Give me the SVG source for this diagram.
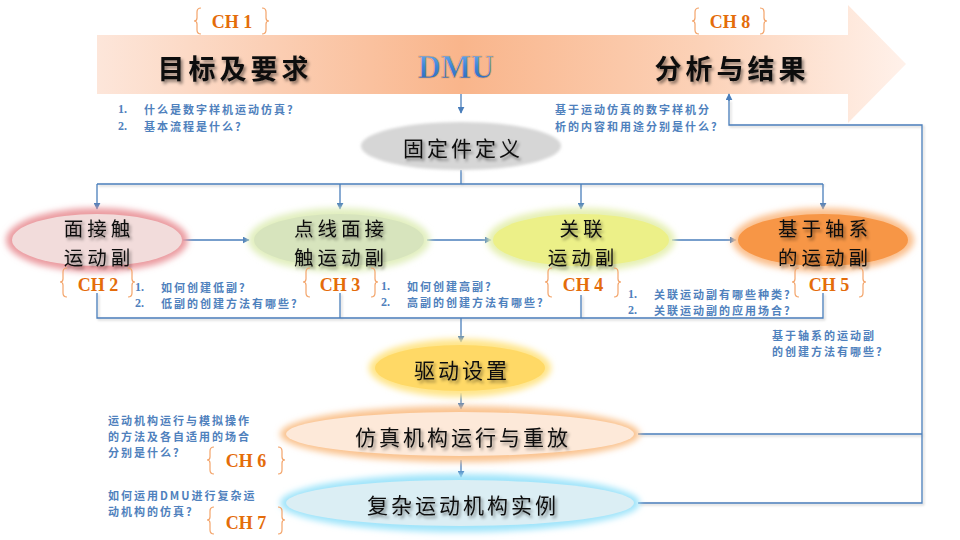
<svg xmlns="http://www.w3.org/2000/svg" width="960" height="540" viewBox="0 0 960 540">
<defs>
<linearGradient id="banner" gradientUnits="userSpaceOnUse" x1="97" y1="0" x2="906" y2="0">
<stop offset="0" stop-color="#fde6da"/>
<stop offset="0.45" stop-color="#f9b58b"/>
<stop offset="0.75" stop-color="#fcd2b8"/>
<stop offset="1" stop-color="#fff1ea"/>
</linearGradient>
<linearGradient id="dmu" x1="0" y1="0" x2="0" y2="1">
<stop offset="0" stop-color="#7ab8f2"/>
<stop offset="0.5" stop-color="#3f86d8"/>
<stop offset="1" stop-color="#2a64b8"/>
</linearGradient>
<filter id="blur" x="-20%" y="-40%" width="140%" height="180%"><feGaussianBlur stdDeviation="3"/></filter>
<filter id="soft" x="-20%" y="-40%" width="140%" height="180%"><feGaussianBlur stdDeviation="1.5"/></filter>
<filter id="tsh" x="-10%" y="-30%" width="130%" height="170%"><feDropShadow dx="2" dy="2.5" stdDeviation="1.5" flood-color="#000" flood-opacity="0.45"/></filter>
<filter id="lsh" filterUnits="userSpaceOnUse" x="0" y="0" width="960" height="540"><feDropShadow dx="1.5" dy="1.5" stdDeviation="1" flood-color="#000" flood-opacity="0.2"/></filter>
<marker id="arr" viewBox="0 0 10 10" refX="9" refY="5" markerWidth="7" markerHeight="7" markerUnits="userSpaceOnUse" orient="auto">
<path d="M0,0 L10,5 L0,10 Z" fill="#4a7ebb"/>
</marker>
<style>
.ln{fill:none;stroke:#4a7ebb;stroke-width:1.3}
.q{font-family:"Noto Sans CJK SC","Liberation Serif",sans-serif;font-size:11px;font-weight:700;fill:#4f81bd;letter-spacing:2px;dominant-baseline:central}
.qn{font-family:"Liberation Serif",serif;font-size:12px;font-weight:700;fill:#4f81bd;dominant-baseline:central}
.ch{font-family:"Liberation Serif",serif;font-size:18px;font-weight:700;fill:#e46c0a;text-anchor:middle}
.br{fill:none;stroke:#f3a46a;stroke-width:1.2}
.nt{font-family:"Noto Sans CJK SC",sans-serif;font-size:21px;fill:#111;letter-spacing:3px;text-anchor:middle;dominant-baseline:central}
.n2{font-family:"Noto Sans CJK SC",sans-serif;font-size:19.5px;fill:#111;letter-spacing:4px;text-anchor:middle;dominant-baseline:central}
.hd{font-family:"Noto Sans CJK SC",sans-serif;font-size:27px;font-weight:700;fill:#111;letter-spacing:4px;text-anchor:middle;dominant-baseline:central}
</style>
</defs>
<rect width="960" height="540" fill="#ffffff"/>

<g id="banner-arrow">
<path d="M97,35 H848 V5 L906,64 L848,123 V94 H97 Z" fill="url(#banner)"/>
<text class="hd" x="235" y="67" filter="url(#tsh)">目标及要求</text>
<text x="456" y="66" font-family="Liberation Serif,serif" font-size="34" font-weight="700" fill="url(#dmu)" stroke="#e8a266" stroke-width="0.7" text-anchor="middle" dominant-baseline="central" textLength="76" lengthAdjust="spacingAndGlyphs">DMU</text>
<text class="hd" x="732" y="67" filter="url(#tsh)">分析与结果</text>
</g>

<g id="connectors">
<line class="ln" x1="461" y1="94" x2="461" y2="113" marker-end="url(#arr)"/>
<g filter="url(#lsh)">
<line class="ln" x1="461" y1="170" x2="461" y2="184"/>
<line class="ln" x1="97" y1="184" x2="823" y2="184"/>
<polyline class="ln" points="97,293 97,318 823,318 823,293"/>
<line class="ln" x1="340" y1="293" x2="340" y2="318"/>
<line class="ln" x1="581" y1="295" x2="581" y2="318"/>
<line class="ln" x1="638" y1="434" x2="922" y2="434"/>
<polyline class="ln" points="638,503 922,503 922,125 729,125 729,100"/>
</g>
<line class="ln" x1="729" y1="101" x2="729" y2="94" marker-end="url(#arr)"/>
<line class="ln" x1="97" y1="184" x2="97" y2="209" marker-end="url(#arr)"/>
<line class="ln" x1="340" y1="184" x2="340" y2="209" marker-end="url(#arr)"/>
<line class="ln" x1="581" y1="184" x2="581" y2="209" marker-end="url(#arr)"/>
<line class="ln" x1="823" y1="184" x2="823" y2="209" marker-end="url(#arr)"/>
<line class="ln" x1="183" y1="240" x2="249" y2="240" marker-end="url(#arr)"/>
<line class="ln" x1="427" y1="240" x2="491" y2="240" marker-end="url(#arr)"/>
<line class="ln" x1="672" y1="240" x2="736" y2="240" marker-end="url(#arr)"/>
<line class="ln" x1="461" y1="318" x2="461" y2="342" marker-end="url(#arr)"/>
<line class="ln" x1="461" y1="393" x2="461" y2="409" marker-end="url(#arr)"/>
<line class="ln" x1="461" y1="460" x2="461" y2="477" marker-end="url(#arr)"/>
</g>

<g id="node-fixed">
<ellipse cx="461" cy="146" rx="100" ry="24" fill="#d6d6d6" filter="url(#soft)"/>
<text class="nt" x="463" y="147" filter="url(#tsh)">固定件定义</text>
</g>

<g id="node-surface">
<ellipse cx="97" cy="240" rx="91" ry="32" fill="#eb9ba0" filter="url(#blur)"/>
<ellipse cx="97" cy="240" rx="85" ry="26" fill="#f2dcdb"/>
<text class="n2" x="99" y="227" filter="url(#tsh)">面接触</text>
<text class="n2" x="99" y="256" filter="url(#tsh)">运动副</text>
</g>

<g id="node-pointline">
<ellipse cx="339" cy="240" rx="91" ry="32" fill="#e2efc0" filter="url(#blur)"/>
<ellipse cx="339" cy="240" rx="85" ry="26" fill="#d7e4bd"/>
<text class="n2" x="341" y="227" filter="url(#tsh)">点线面接</text>
<text class="n2" x="341" y="256" filter="url(#tsh)">触运动副</text>
</g>

<g id="node-related">
<ellipse cx="581" cy="240" rx="94" ry="32" fill="#e6f0b4" filter="url(#blur)"/>
<ellipse cx="581" cy="240" rx="88" ry="26" fill="#ecf088"/>
<text class="n2" x="583" y="227" filter="url(#tsh)">关联</text>
<text class="n2" x="583" y="256" filter="url(#tsh)">运动副</text>
</g>

<g id="node-axis">
<ellipse cx="823" cy="240" rx="91" ry="32" fill="#fbc08e" filter="url(#blur)"/>
<ellipse cx="823" cy="240" rx="85" ry="26" fill="#f79646"/>
<text class="n2" x="825" y="227" filter="url(#tsh)">基于轴系</text>
<text class="n2" x="825" y="256" filter="url(#tsh)">的运动副</text>
</g>

<g id="node-drive">
<ellipse cx="460" cy="368" rx="91" ry="29" fill="#ffe58a" filter="url(#blur)"/>
<ellipse cx="460" cy="368" rx="85" ry="23" fill="#ffd966"/>
<text class="nt" x="462" y="369" filter="url(#tsh)">驱动设置</text>
</g>

<g id="node-sim">
<ellipse cx="460" cy="434" rx="180" ry="28" fill="#fac38f" filter="url(#blur)"/>
<ellipse cx="460" cy="434" rx="174" ry="22" fill="#fde9d9"/>
<text class="nt" x="463" y="436" filter="url(#tsh)">仿真机构运行与重放</text>
</g>

<g id="node-complex">
<ellipse cx="460" cy="503" rx="180" ry="29" fill="#9fe4fa" filter="url(#blur)"/>
<ellipse cx="460" cy="503" rx="174" ry="23" fill="#dbeef4"/>
<text class="nt" x="463" y="504" filter="url(#tsh)">复杂运动机构实例</text>
</g>

<g id="chapters">
<path class="br" d="M201,8 Q197,8 197,12 V18 Q197,21 194,21 Q197,21 197,24 V30 Q197,34 201,34"/>
<path class="br" d="M262,8 Q266,8 266,12 V18 Q266,21 269,21 Q266,21 266,24 V30 Q266,34 262,34"/>
<text class="ch" x="232" y="28">CH 1</text>
<path class="br" d="M699,8 Q695,8 695,12 V18 Q695,21 692,21 Q695,21 695,24 V30 Q695,34 699,34"/>
<path class="br" d="M760,8 Q764,8 764,12 V18 Q764,21 767,21 Q764,21 764,24 V30 Q764,34 760,34"/>
<text class="ch" x="730" y="28">CH 8</text>

<path class="br" d="M67,268 Q63,268 63,272 V279 Q63,282 60,282 Q63,282 63,285 V293 Q63,297 67,297"/>
<path class="br" d="M128,268 Q132,268 132,272 V279 Q132,282 135,282 Q132,282 132,285 V293 Q132,297 128,297"/>
<text class="ch" x="98" y="291">CH 2</text>
<path class="br" d="M310,268 Q306,268 306,272 V279 Q306,282 303,282 Q306,282 306,285 V293 Q306,297 310,297"/>
<path class="br" d="M371,268 Q375,268 375,272 V279 Q375,282 378,282 Q375,282 375,285 V293 Q375,297 371,297"/>
<text class="ch" x="340" y="291">CH 3</text>
<path class="br" d="M552,268 Q548,268 548,272 V279 Q548,282 545,282 Q548,282 548,285 V293 Q548,297 552,297"/>
<path class="br" d="M614,268 Q618,268 618,272 V279 Q618,282 621,282 Q618,282 618,285 V293 Q618,297 614,297"/>
<text class="ch" x="583" y="291">CH 4</text>
<path class="br" d="M799,268 Q795,268 795,272 V279 Q795,282 792,282 Q795,282 795,285 V293 Q795,297 799,297"/>
<path class="br" d="M859,268 Q863,268 863,272 V279 Q863,282 866,282 Q863,282 863,285 V293 Q863,297 859,297"/>
<text class="ch" x="829" y="291">CH 5</text>

<path class="br" d="M214,447 Q210,447 210,451 V457 Q210,460 207,460 Q210,460 210,463 V470 Q210,474 214,474"/>
<path class="br" d="M278,447 Q282,447 282,451 V457 Q282,460 285,460 Q282,460 282,463 V470 Q282,474 278,474"/>
<text class="ch" x="246" y="467">CH 6</text>
<path class="br" d="M214,507 Q210,507 210,511 V517 Q210,520 207,520 Q210,520 210,523 V530 Q210,534 214,534"/>
<path class="br" d="M278,507 Q282,507 282,511 V517 Q282,520 285,520 Q282,520 282,523 V530 Q282,534 278,534"/>
<text class="ch" x="246" y="529">CH 7</text>
</g>

<g id="questions">
<text class="qn" x="118" y="109">1.</text>
<text class="q" x="144" y="109">什么是数字样机运动仿真?</text>
<text class="qn" x="118" y="126">2.</text>
<text class="q" x="144" y="126">基本流程是什么?</text>

<text class="q" x="555" y="109">基于运动仿真的数字样机分</text>
<text class="q" x="555" y="126">析的内容和用途分别是什么?</text>

<text class="qn" x="135" y="287">1.</text>
<text class="q" x="161" y="287">如何创建低副?</text>
<text class="qn" x="135" y="303">2.</text>
<text class="q" x="161" y="303">低副的创建方法有哪些?</text>

<text class="qn" x="381" y="286">1.</text>
<text class="q" x="407" y="286">如何创建高副?</text>
<text class="qn" x="381" y="302">2.</text>
<text class="q" x="407" y="302">高副的创建方法有哪些?</text>

<text class="qn" x="628" y="294">1.</text>
<text class="q" x="654" y="294">关联运动副有哪些种类?</text>
<text class="qn" x="628" y="310">2.</text>
<text class="q" x="654" y="310">关联运动副的应用场合?</text>

<text class="q" x="772" y="335">基于轴系的运动副</text>
<text class="q" x="772" y="351">的创建方法有哪些?</text>

<text class="q" x="108" y="420">运动机构运行与模拟操作</text>
<text class="q" x="108" y="436">的方法及各自适用的场合</text>
<text class="q" x="108" y="452">分别是什么?</text>

<text class="q" x="108" y="495">如何运用DMU进行复杂运</text>
<text class="q" x="108" y="511">动机构的仿真?</text>
</g>
</svg>
